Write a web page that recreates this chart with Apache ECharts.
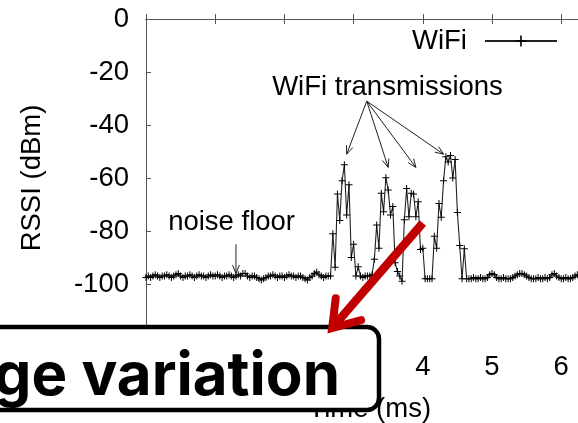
<!DOCTYPE html>
<html>
<head>
<meta charset="utf-8">
<script src="https://cdn.jsdelivr.net/npm/echarts@6/dist/echarts.min.js"></script>
<style>
  html, body { margin: 0; padding: 0; background: #fff; }
  #chart { width: 578px; height: 423px; }
</style>
</head>
<body>
<div id="chart"></div>
<script>
// Received signal strength trace, one sample every 1/30 ms
const sampleStepMs = 1 / 30;
const rssiDbm = [
  -97.5, -97, -97.5, -97, -96.5, -97, -97.5, -97, -97, -96.5,
  -97, -97.5, -97, -96.5, -96, -97, -97.5, -97, -97, -96.5,
  -97, -97.5, -97, -96.5, -97, -97, -97.5, -97, -96.5, -97,
  -97, -96.5, -97, -97.5, -97, -97, -96.5, -97, -97.5, -97,
  -96.5, -97, -96, -96, -97, -97.5, -97, -97, -97.5, -98,
  -98.5, -98, -97.5, -97, -97, -96.5, -97, -97.5, -97, -97,
  -97.5, -97, -96.5, -97, -97, -97.5, -97, -97, -97.5, -98,
  -98.5, -97.5, -97, -96, -95.5, -96.5, -97, -97.5, -97, -97,
  -97,
  // first transmission
  -81, -93.7, -66, -76, -61, -55, -74, -62.5, -90, -85,
  -97, -93.5, -97, -97.5, -97, -97, -97, -96.5, -90.7,
  // second transmission
  -77.7, -86.5, -65.8, -72.7, -59.9, -64.5, -74, -70.8, -92, -95.3,
  -97, -99,
  // third transmission
  -75.8, -64, -74.6, -65.8, -66, -74.6, -69, -87, -86.5,
  -98, -98, -98, -98,
  // fourth transmission
  -82, -86.5, -69.6, -74.8, -61, -52, -54, -51.5, -60, -53,
  -73, -85.5, -98, -86.7, -98,
  // back to the noise floor
  -98, -98, -97.5, -98, -98, -97.5, -98, -98, -97.5, -96.5,
  -96, -96.5, -97.5, -98, -98, -97.5, -98, -98, -98, -97.5,
  -97, -96.5, -96, -96, -96.5, -97, -97.5, -98, -98, -98,
  -97.5, -98, -98, -97.5, -98, -97.5, -96.5, -96, -97, -97.5,
  -98, -98, -97.5, -98, -98, -97.5, -97, -96.5, -97, -97.5,
  -98, -98, -97.5, -98, -98, -97.5, -97, -97.5, -98, -98, -97.5
];
const seriesName = 'WiFi';
const xTicks = { min: 0, max: 7, step: 1 };
const yTicks = { min: -120, max: 0, step: 20 };

// Annotation anchors in data units (ms, dBm)
const txLabel = { text: 'WiFi transmissions', at: [3.49, -26], from: [3.19, -31] };
const txTargets = [[2.9, -51], [3.5, -56], [3.9, -56], [4.3, -51]];
const noiseLabel = { text: 'noise floor', at: [0.32, -76.6], arrow: [[1.3, -85], [1.3, -96]] };
const variationArrow = [[4.0, -77], [2.69, -116.6]];
const calloutText = 'ge variation';

const FONT = "'Liberation Sans', Arial, sans-serif";
const FS = 27.5;
const AXIS_GRAY = '#555';

const seriesData = rssiDbm.map((v, i) => [i * sampleStepMs, v]);
const plusSymbol = 'path://M3,0H4V7H3Z M0,3H7V4H0Z';

const chart = echarts.init(document.getElementById('chart'), null, { renderer: 'canvas' });

const option = {
  animation: false,
  backgroundColor: '#fff',
  // plot area runs past the right edge of the page
  grid: { left: 146, top: 19, width: 484.4, height: 318, containLabel: false, outerBoundsMode: 'none' },
  legend: {
    data: [seriesName],
    left: 407, top: 22,
    align: 'right',
    itemWidth: 72, itemHeight: 14, itemGap: 0,
    textStyle: { fontFamily: FONT, fontSize: FS, color: '#000', padding: [0, 13, 0, 0] },
    selectedMode: false
  },
  xAxis: [{
    type: 'value', min: xTicks.min, max: xTicks.max, interval: xTicks.step,
    position: 'bottom',
    name: 'Time (ms)', nameLocation: 'middle', nameGap: 58,
    nameTextStyle: { fontFamily: FONT, fontSize: FS, color: '#000', padding: [0, 37, 0, 0] },
    axisLine: { show: true, lineStyle: { color: AXIS_GRAY, width: 1 } },
    axisTick: { show: true, inside: true, length: 5, lineStyle: { color: AXIS_GRAY } },
    axisLabel: { fontFamily: FONT, fontSize: FS, color: '#000', margin: 16 },
    splitLine: { show: false }
  }, {
    type: 'value', min: xTicks.min, max: xTicks.max, interval: xTicks.step,
    position: 'top',
    axisLine: { show: true, lineStyle: { color: AXIS_GRAY, width: 1 } },
    axisTick: { show: true, inside: true, length: 5, lineStyle: { color: AXIS_GRAY } },
    axisLabel: { show: false },
    splitLine: { show: false }
  }],
  yAxis: {
    type: 'value', min: yTicks.min, max: yTicks.max, interval: yTicks.step,
    name: 'RSSI (dBm)', nameLocation: 'middle', nameGap: 100, nameRotate: 90,
    nameTextStyle: { fontFamily: FONT, fontSize: FS, color: '#000' },
    axisLine: { show: true, lineStyle: { color: AXIS_GRAY, width: 1 } },
    axisTick: { show: true, inside: true, length: 5, lineStyle: { color: AXIS_GRAY } },
    axisLabel: { fontFamily: FONT, fontSize: FS, color: '#000', margin: 17, showMinLabel: false },
    splitLine: { show: false }
  },
  series: [{
    name: seriesName,
    type: 'line',
    data: seriesData,
    xAxisIndex: 0,
    symbol: plusSymbol,
    symbolSize: 7,
    showAllSymbol: true,
    itemStyle: { color: '#000' },
    lineStyle: { color: '#222', width: 1.1 },
    emphasis: { disabled: true },
    clip: true
  }]
};
chart.setOption(option);

// ---- annotations drawn on top of the plot ----
const toPx = p => chart.convertToPixel({ gridIndex: 0 }, p);

function arrowHead(from, to, len, halfAngleDeg) {
  const ang = Math.atan2(from[1] - to[1], from[0] - to[0]);
  const a = halfAngleDeg * Math.PI / 180;
  return [
    [to[0] + len * Math.cos(ang + a), to[1] + len * Math.sin(ang + a)],
    [to[0], to[1]],
    [to[0] + len * Math.cos(ang - a), to[1] + len * Math.sin(ang - a)]
  ];
}

function thinArrow(fromData, toData) {
  const p0 = toPx(fromData), p1 = toPx(toData);
  return [{
    type: 'line', z: 50, silent: true,
    shape: { x1: p0[0], y1: p0[1], x2: p1[0], y2: p1[1] },
    style: { stroke: '#222', lineWidth: 1 }
  }, {
    type: 'polyline', z: 50, silent: true,
    shape: { points: arrowHead(p0, p1, 9, 22) },
    style: { stroke: '#222', lineWidth: 1, fill: null }
  }];
}

const graphics = [];
const txAnchor = txLabel.from;
txTargets.forEach(t => graphics.push(...thinArrow(txAnchor, t)));
const txPos = toPx(txLabel.at);
graphics.push({
  type: 'text', z: 50, silent: true, x: txPos[0], y: txPos[1],
  style: { text: txLabel.text, font: FS + 'px ' + FONT, fill: '#000', align: 'center', verticalAlign: 'middle' }
});
const nfPos = toPx(noiseLabel.at);
graphics.push({
  type: 'text', z: 50, silent: true, x: nfPos[0], y: nfPos[1],
  style: { text: noiseLabel.text, font: FS + 'px ' + FONT, fill: '#000', align: 'left', verticalAlign: 'middle' }
});
graphics.push(...thinArrow(noiseLabel.arrow[0], noiseLabel.arrow[1]));

// callout box over the lower-left corner
graphics.push({
  type: 'rect', z: 100, silent: true,
  shape: { x: -30, y: 327, width: 409, height: 83, r: 12 },
  style: { fill: '#fff', stroke: '#000', lineWidth: 4.5 }
});
graphics.push({
  type: 'text', z: 101, silent: true, x: 340, y: 377,
  style: { text: calloutText, font: 'bold 60px Inter, sans-serif', fill: '#000', align: 'right', verticalAlign: 'middle' }
});

// red pointer from the second burst down to the callout
const r0 = toPx(variationArrow[0]), r1 = toPx(variationArrow[1]);
graphics.push({
  type: 'line', z: 110, silent: true,
  shape: { x1: r0[0], y1: r0[1], x2: r1[0], y2: r1[1] },
  style: { stroke: '#c00000', lineWidth: 8.5, lineCap: 'butt' }
});
graphics.push({
  type: 'polyline', z: 110, silent: true,
  shape: { points: arrowHead(r0, r1, 30, 34) },
  style: { stroke: '#c00000', lineWidth: 8, lineCap: 'round', lineJoin: 'miter', fill: null }
});

chart.setOption({ graphic: graphics });
</script>
</body>
</html>
